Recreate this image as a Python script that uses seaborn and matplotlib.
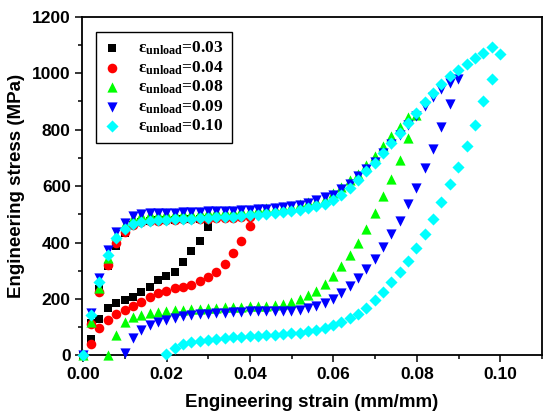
import pandas as pd
import seaborn as sns
import matplotlib.pyplot as plt
from matplotlib.ticker import MultipleLocator

sns.set_style("ticks")
plt.rcParams["font.family"] = ["Liberation Sans", "DejaVu Sans"]
plt.rcParams["font.weight"] = "bold"
plt.rcParams["mathtext.fontset"] = "custom"
plt.rcParams["mathtext.rm"] = "Liberation Serif:bold"
plt.rcParams["mathtext.it"] = "Liberation Serif:bold"
plt.rcParams["mathtext.bf"] = "Liberation Serif:bold"
for key in ["text.color", "axes.labelcolor", "xtick.color", "ytick.color", "axes.edgecolor"]:
    plt.rcParams[key] = "black"

# === 数据: 应变采样点 (mm/mm) ===
strain_grid = [0, 0.0019, 0.0039, 0.0059, 0.0079, 0.0099, 0.0119, 0.0139, 0.0159, 0.0179,
               0.0199, 0.0219, 0.0239, 0.0259, 0.0279, 0.0299, 0.0319, 0.0339, 0.0359, 0.0379,
               0.0399, 0.0419, 0.0439, 0.0459, 0.0479, 0.0499, 0.0519, 0.0539, 0.0559, 0.0579,
               0.0599, 0.0619, 0.0639, 0.0659, 0.0679, 0.0699, 0.0719, 0.0739, 0.0759, 0.0779,
               0.0799, 0.0819, 0.0839, 0.0859, 0.0879, 0.0899, 0.0919, 0.0939, 0.0959, 0.0979,
               0.0999]

# === 数据: 加载 / 卸载 应力 (MPa) ===
load_003 = [0, 115, 235, 318, 388, 435, 462, 473, 477, 479, 480, 481, 482, 483, 484, 485]
unload_003 = [454, 406, 370, 332, 297, 281, 267, 241, 226, 206, 196, 185, 167, 129, 57]

load_004 = [0, 110, 226, 320, 397, 438, 461, 472, 476, 478, 480, 481, 482, 483, 484, 485,
            486, 487, 488, 489, 490]
unload_004 = [458, 406, 362, 324, 295, 277, 265, 250, 244, 238, 230, 220, 208, 190, 175, 161,
              146, 126, 99, 41]

load_008 = [0, 120, 240, 345, 428, 465, 487, 497, 500, 501, 503, 504, 505, 506, 507, 509, 510,
            512, 513, 515, 517, 519, 521, 524, 527, 531, 536, 542, 548, 556, 576, 597, 620, 644,
            676, 708, 741, 776, 810, 843, 851]
unload_008 = [772, 694, 625, 565, 503, 447, 400, 355, 317, 283, 252, 229, 213, 200, 190, 184,
              180, 177, 175, 174, 172, 171, 170, 168, 167, 166, 164, 162, 160, 158, 154, 149,
              143, 135, 120, 73, 3]

load_009 = [0, 152, 276, 372, 438, 470, 493, 500, 503, 504, 505, 506, 507, 508, 509, 510, 511,
            512, 513, 514, 516, 518, 520, 522, 525, 529, 534, 541, 549, 560, 570, 590, 609, 635,
            660, 685, 716, 748, 782, 815, 850, 884, 916, 945, 965, 978]
unload_009 = [890, 808, 733, 663, 594, 536, 477, 432, 385, 342, 306, 273, 246, 222, 200, 186,
              174, 167, 162, 159, 158, 157, 157, 156, 156, 155, 154, 152, 150, 148, 146, 143,
              139, 134, 126, 117, 108, 91, 62, 8]

load_010 = [0, 143, 260, 356, 415, 447, 466, 474, 478, 480, 481, 482, 483, 485, 486, 488, 489,
            491, 492, 494, 496, 499, 502, 505, 508, 512, 517, 524, 530, 538, 550, 568, 592, 621,
            654, 683, 716, 751, 787, 822, 860, 898, 930, 963, 989, 1011, 1032, 1052, 1073, 1093,
            1067]
unload_010 = [979, 901, 816, 742, 668, 606, 545, 483, 432, 382, 336, 297, 259, 226, 196, 169,
              148, 132, 118, 107, 97, 90, 85, 81, 78, 76, 74, 72, 70, 68, 66, 64, 62, 59, 56,
              52, 47, 40, 28, 5]

labels = ["0.03", "0.04", "0.08", "0.09", "0.10"]
colors = ["#000000", "#FF0000", "#00FF00", "#0000FF", "#00FFFF"]
markers = ["s", "o", "^", "v", "D"]
sizes = [36, 48, 54, 54, 38]

loads = [load_003, load_004, load_008, load_009, load_010]
unloads = [unload_003, unload_004, unload_008, unload_009, unload_010]
# 卸载段: 从哪个采样点开始往回, 到哪个采样点结束
unload_start = [15, 20, 39, 44, 49]
unload_end = [1, 1, 3, 5, 10]

frames = []
for lab, ld, ul, st, end in zip(labels, loads, unloads, unload_start, unload_end):
    x_load = strain_grid[:len(ld)]
    x_unload = strain_grid[st:end - 1:-1]
    frames.append(pd.DataFrame({"strain": list(x_load) + list(x_unload),
                                "stress": ld + ul, "case": lab}))
df = pd.concat(frames, ignore_index=True)

fig = plt.figure(figsize=(5.44, 4.17), dpi=100)
ax = fig.add_axes([0.1507, 0.1475, 0.8456, 0.8125])

for lab, c, m, s in zip(labels, colors, markers, sizes):
    sub = df[df["case"] == lab]
    sns.scatterplot(data=sub, x="strain", y="stress", ax=ax, color=c, marker=m, s=s,
                    linewidth=0, clip_on=False, zorder=3,
                    label="ε$_{\\mathrm{unload}}$=" + lab)

ax.set_xlim(-0.0003, 0.110)
ax.set_ylim(0, 1200)
ax.xaxis.set_major_locator(MultipleLocator(0.02))
ax.xaxis.set_minor_locator(MultipleLocator(0.01))
ax.yaxis.set_major_locator(MultipleLocator(200))
ax.yaxis.set_minor_locator(MultipleLocator(100))
ax.set_xticks([0, 0.02, 0.04, 0.06, 0.08, 0.10])
ax.set_xticklabels(["0.00", "0.02", "0.04", "0.06", "0.08", "0.10"])
ax.tick_params(which="major", direction="out", length=5, width=1.1, labelsize=12.5, pad=3,
               colors="black")
ax.tick_params(which="minor", direction="out", length=3, width=1.1, colors="black")
for sp in ax.spines.values():
    sp.set_linewidth(1.3)
    sp.set_color("black")

ax.set_xlabel("Engineering strain (mm/mm)", fontsize=13.5, fontweight="bold", labelpad=9,
              color="black")
ax.set_ylabel("Engineering stress (MPa)", fontsize=13.5, fontweight="bold", labelpad=5,
              color="black")

leg = ax.legend(loc="upper left", bbox_to_anchor=(0.03, 0.955), borderaxespad=0,
                frameon=True, fancybox=False, edgecolor="black", framealpha=1,
                handlelength=1.0, handletextpad=1.0, labelspacing=0.12, borderpad=0.45,
                prop={"family": "Liberation Serif", "weight": "bold", "size": 12.5})
leg.get_frame().set_linewidth(1.0)
for t in leg.get_texts():
    t.set_color("black")

plt.savefig("out.png", dpi=100)
